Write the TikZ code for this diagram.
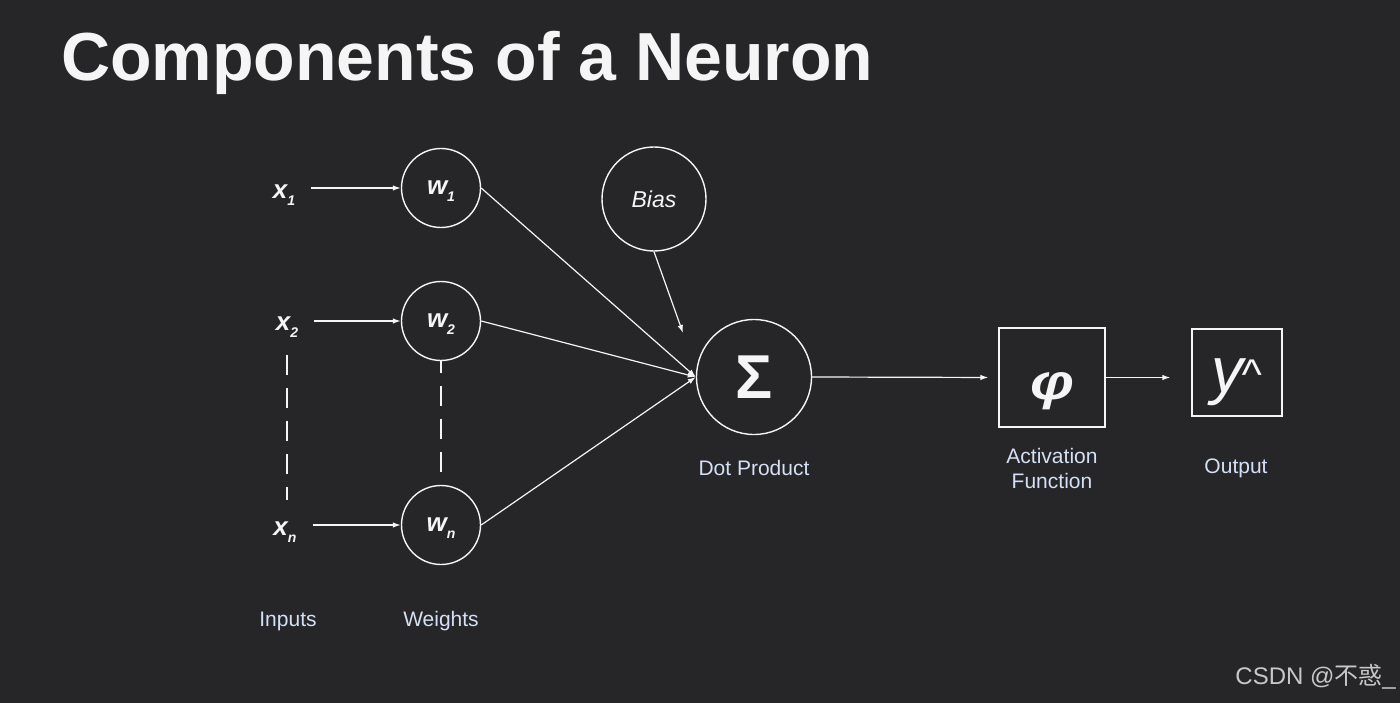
\documentclass[tikz,border=0pt]{standalone}
\usepackage{fontspec}
\setmainfont{Liberation Sans}
\newfontfamily\cjk{Noto Sans CJK SC}
\usetikzlibrary{arrows.meta}

\definecolor{bgdark}{RGB}{38,37,40}
\definecolor{fgwhite}{RGB}{245,245,245}
\definecolor{capblue}{RGB}{212,224,245}
\definecolor{markgray}{RGB}{200,200,200}

% variable with a lowered subscript
\newcommand{\varsub}[2]{#1\raisebox{-7pt}[0pt][0pt]{\fontsize{14}{14}\selectfont #2}}

\tikzset{
  unit/.style={circle, draw=fgwhite, line width=1.4pt, inner sep=0pt, text=fgwhite},
  block/.style={rectangle, draw=fgwhite, line width=1.4pt, inner sep=0pt, text=fgwhite},
  varname/.style={inner sep=0pt, text=fgwhite, font=\fontsize{26}{26}\selectfont\bfseries\itshape},
  caption/.style={inner sep=0pt, text=capblue, align=center, font=\fontsize{21}{25}\selectfont},
  link/.style={draw=fgwhite, line width=1.2pt, -{Latex[length=8pt,width=5.5pt]}},
  gap/.style={draw=fgwhite, line width=1.2pt, dash pattern=on 20pt off 13pt}
}

\begin{document}
\begin{tikzpicture}[x=1pt, y=-1pt]
\fill[bgdark] (0,0) rectangle (1400,703);
\useasboundingbox (0,0) rectangle (1400,703);

\path (61,81) node[anchor=base west, inner sep=0pt, text=fgwhite, font=\fontsize{68}{68}\selectfont\bfseries] (title) {Components of a Neuron}

(284,192) node[varname] (x1) {\varsub{x}{1}}
(287,324) node[varname] (x2) {\varsub{x}{2}}
(285,529) node[varname] (xn) {\varsub{x}{n}}

(441,188) node[unit, minimum size=79pt, font=\fontsize{26}{26}\selectfont\bfseries\itshape] (w1) {\raisebox{-2pt}{\varsub{w}{1}}}
(441,321) node[unit, minimum size=79pt, font=\fontsize{26}{26}\selectfont\bfseries\itshape] (w2) {\raisebox{-2pt}{\varsub{w}{2}}}
(441,525) node[unit, minimum size=79pt, font=\fontsize{26}{26}\selectfont\bfseries\itshape] (wn) {\raisebox{-2pt}{\varsub{w}{n}}}

(654,199) node[unit, minimum size=104pt, font=\fontsize{23}{23}\selectfont\itshape] (bias) {Bias}
(754,377) node[unit, minimum size=115pt, font=\fontsize{62}{62}\selectfont\bfseries] (sig) {Σ}
(1052,377.5) node[block, minimum width=106pt, minimum height=99pt, font=\fontsize{50}{50}\selectfont\bfseries\itshape] (phi) {\raisebox{-22pt}[0pt][0pt]{\scalebox{1.25}[1]{φ}}}
(1237,372.5) node[block, minimum width=90pt, minimum height=87pt, font=\fontsize{64}{64}\selectfont\itshape] (out) {\raisebox{-20pt}[0pt][0pt]{y\kern-2pt\raisebox{3pt}{\fontsize{43}{43}\selectfont\textasciicircum}}}

(683,333) coordinate (biasend)

(288,621) node[caption] (inlab) {Inputs}
(441,621) node[caption] (wlab) {Weights}
(754,468) node[caption] (siglab) {Dot Product}
(1052,468) node[caption] (philab) {Activation\\Function}
(1236,468) node[caption] (outlab) {Output}

(1396,677) node[anchor=east, inner sep=0pt, text=markgray, font=\fontsize{24}{24}\selectfont] (mark) {CSDN @{\cjk 不惑}\_};

\draw[link, shorten <=16pt] (x1.east |- w1.west) -- (w1.west);
\draw[link, shorten <=16pt] (x2.east |- w2.west) -- (w2.west);
\draw[link, shorten <=16pt] (xn.east |- wn.west) -- (wn.west);
\draw[gap, shorten <=24pt, shorten >=22pt] (x2.south) -- (x2.south |- xn.north);
\draw[gap, dash phase=8pt] (w2.south) -- (wn.north);

\draw[link] (w1.east) -- (sig.west);
\draw[link] (w2.east) -- (sig.west);
\draw[link] (wn.east) -- (sig.west);
\draw[link] (bias.south) -- (biasend);

\draw[link, shorten >=10pt] (sig.east) -- (phi.west);
\draw[link, shorten >=21pt] (phi.east) -- (phi.east -| out.west);
\end{tikzpicture}
\end{document}
